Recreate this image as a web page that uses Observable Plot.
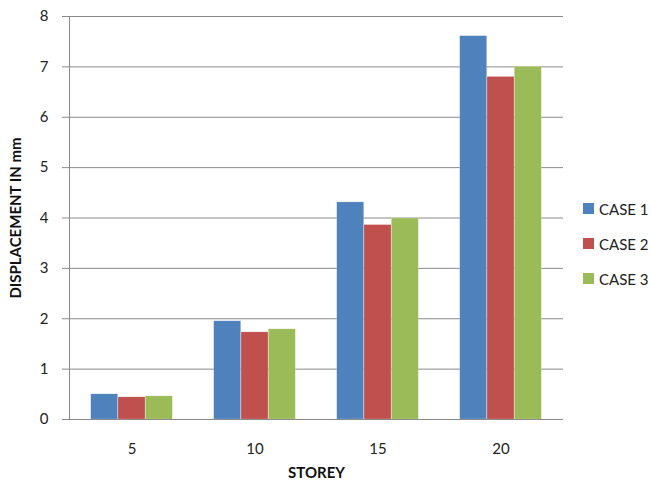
<!DOCTYPE html>
<html><head><meta charset="utf-8">
<script src="https://cdn.jsdelivr.net/npm/d3@7"></script>
<script src="https://cdn.jsdelivr.net/npm/@observablehq/plot@0.6"></script>
<style>
body{margin:0;background:#fff;font-family:Lato,"Open Sans",sans-serif;}
#wrap{position:relative;width:651px;height:485px;overflow:hidden}
#legend{position:absolute;left:583px;top:191px;font-size:15px;color:#222}
.item{display:flex;align-items:center;height:35px}
.sw{width:11px;height:11px;margin-right:5px}
</style></head><body>
<div id="wrap"><div id="chart"></div><div id="legend"></div></div>
<script>
const storeys = ["5", "10", "15", "20"];
const cases = ["CASE 1", "CASE 2", "CASE 3"];
const case1 = [0.50, 1.95, 4.31, 7.61];
const case2 = [0.44, 1.73, 3.86, 6.80];
const case3 = [0.46, 1.79, 3.99, 7.00];
const colors = ["#4F81BD", "#C0504D", "#9BBB59"];
const yTicks = [0, 1, 2, 3, 4, 5, 6, 7, 8];
const xTitle = "STOREY";
const yTitle = "DISPLACEMENT IN mm";

const series = [case1, case2, case3];
const barW = 27.3;
const offsets = [-barW, 0, barW];

const gridColor = "#8a8a8a";
const marks = [
  Plot.gridY(yTicks, {stroke: gridColor, strokeOpacity: 1}),
  ...series.map((vals, i) => Plot.barY(storeys.map((s, j) => ({storey: s, value: vals[j], c: cases[i]})), {
    x: "storey", y: "value", fill: colors[i], dx: offsets[i], stroke: "#fff", strokeOpacity: 0.35, strokeWidth: 0.6
  })),
  Plot.ruleY([0], {stroke: gridColor}),
  Plot.frame({anchor: "left", stroke: gridColor}),
  Plot.axisY(yTicks, {tickSize: 7, tickPadding: 14, stroke: gridColor, fill: "#222", fontSize: 15, tickFormat: d => String(d), label: null}),
  Plot.axisX(storeys, {tickSize: 0, tickPadding: 24, fill: "#222", fontSize: 15, label: null}),
  Plot.text([yTitle], {frameAnchor: "left", dx: -53, rotate: -90, textAnchor: "middle", lineAnchor: "middle", text: d => d, fontWeight: "bold", fontSize: 15, fill: "#111"}),
  Plot.text([xTitle], {frameAnchor: "bottom", dy: 54, textAnchor: "middle", lineAnchor: "middle", text: d => d, fontWeight: "bold", fontSize: 15, fill: "#111"})
];

const chart = Plot.plot({
  width: 651,
  height: 485,
  marginLeft: 69,
  marginRight: 88,
  marginTop: 16,
  marginBottom: 66,
  style: {fontFamily: "Lato, 'Open Sans', sans-serif", background: "#fff"},
  x: {domain: storeys, paddingInner: 0.779, paddingOuter: 0.39},
  y: {domain: [0, 8]},
  marks
});
document.getElementById("chart").appendChild(chart);

const legend = document.getElementById("legend");
cases.forEach((c, i) => {
  const d = document.createElement("div");
  d.className = "item";
  d.innerHTML = `<div class="sw" style="background:${colors[i]}"></div><span>${c}</span>`;
  legend.appendChild(d);
});
</script>
</body></html>
